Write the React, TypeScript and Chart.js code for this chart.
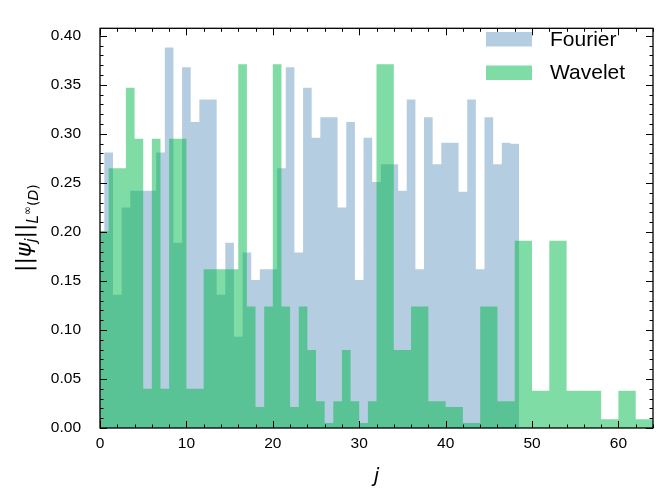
import React, { useEffect, useRef } from "react";
import { Chart, registerables } from "chart.js";

Chart.register(...registerables);

// sup-norm of each basis function
// Fourier: one bar per j = 0..48, centred on j
const fourierNorms = [
  0.201, 0.281, 0.136, 0.225, 0.242, 0.242, 0.242, 0.281, 0.388, 0.189,
  0.368, 0.312, 0.335, 0.335, 0.136, 0.189, 0.093, 0.179, 0.151, 0.162,
  0.162, 0.265, 0.368, 0.179, 0.347, 0.296, 0.317, 0.317, 0.225, 0.312,
  0.151, 0.296, 0.251, 0.269, 0.269, 0.242, 0.335, 0.162, 0.317, 0.269,
  0.291, 0.291, 0.241, 0.335, 0.162, 0.317, 0.269, 0.291, 0.29,
];
// Wavelet: one bar per cell [k, k+1], k = 0..63
const waveletNorms = [
  0.201, 0.265, 0.265, 0.347, 0.295, 0.04, 0.295, 0.04, 0.295, 0.295,
  0.04, 0.04, 0.162, 0.162, 0.162, 0.162, 0.371, 0.124, 0.0215, 0.124,
  0.371, 0.124, 0.0215, 0.124, 0.0795, 0.0274, 0.005, 0.0274, 0.0795, 0.0274,
  0.005, 0.0274, 0.371, 0.371, 0.0795, 0.0795, 0.124, 0.124, 0.0274, 0.0274,
  0.0215, 0.0215, 0.005, 0.005, 0.124, 0.124, 0.0274, 0.0274, 0.191, 0.191,
  0.038, 0.038, 0.191, 0.191, 0.038, 0.038, 0.038, 0.038, 0.0088, 0.0088,
  0.038, 0.038, 0.0088, 0.0088,
];
const seriesNames = ["Fourier", "Wavelet"];
const xTicks = [0, 10, 20, 30, 40, 50, 60];

const FOURIER_COLOR = "rgba(70,130,180,0.4)";
const WAVELET_COLOR = "rgba(0,185,75,0.5)";

// turn bar heights into step points (left edge of every bar + closing edge)
const toSteps = (vals: number[], start: number) => {
  const pts = vals.map((v, i) => ({ x: start + i, y: v }));
  pts.push({ x: start + vals.length, y: vals[vals.length - 1] });
  return pts;
};

const mathFont = (size: number, italic = false) =>
  `${italic ? "italic " : ""}${size}px 'DejaVu Sans'`;

const decorations = {
  id: "decorations",
  afterDraw(chart: any) {
    const { ctx, chartArea: a, scales } = chart;
    const xs = scales.x;
    const ys = scales.y;
    ctx.save();

    // inward ticks on all four sides
    ctx.strokeStyle = "#000";
    ctx.lineWidth = 1;
    ctx.beginPath();
    for (let i = 0; i <= 32; i++) {
      const v = i * 2;
      const px = Math.round(xs.getPixelForValue(v)) + 0.5;
      const len = v % 10 === 0 ? 7 : 3.5;
      ctx.moveTo(px, a.bottom);
      ctx.lineTo(px, a.bottom - len);
      ctx.moveTo(px, a.top);
      ctx.lineTo(px, a.top + len);
    }
    for (let i = 0; i <= 40; i++) {
      const py = Math.round(ys.getPixelForValue(i / 100)) + 0.5;
      const len = i % 5 === 0 ? 7 : 3.5;
      ctx.moveTo(a.left, py);
      ctx.lineTo(a.left + len, py);
      ctx.moveTo(a.right, py);
      ctx.lineTo(a.right - len, py);
    }
    ctx.stroke();
    ctx.lineWidth = 1.3;
    ctx.strokeRect(a.left, a.top, a.right - a.left, a.bottom - a.top);

    // legend
    const colors = [FOURIER_COLOR, WAVELET_COLOR];
    ctx.font = "21px 'Liberation Sans'";
    ctx.textBaseline = "middle";
    ctx.textAlign = "left";
    seriesNames.forEach((name, i) => {
      const cy = 39 + i * 33.5;
      ctx.fillStyle = colors[i];
      ctx.fillRect(486, cy - 7, 46, 14.5);
      ctx.fillStyle = "#000";
      ctx.fillText(name, 550, cy + 1);
    });

    // x title
    ctx.font = mathFont(20, true);
    ctx.textAlign = "center";
    ctx.fillText("j", (a.left + a.right) / 2, 477);

    // y title ||psi_j||_{L^inf(D)}, rotated
    const parts = [
      { t: "||", f: mathFont(22), dy: 0 },
      { t: "ψ", f: mathFont(22, true), dy: 0 },
      { t: "j", f: mathFont(15, true), dy: 5 },
      { t: "||", f: mathFont(22), dy: 0 },
      { t: "L", f: mathFont(15, true), dy: 7 },
      { t: "∞", f: mathFont(11), dy: 0 },
      { t: "(", f: mathFont(14), dy: 7 },
      { t: "D", f: mathFont(14, true), dy: 7 },
      { t: ")", f: mathFont(14), dy: 7 },
    ];
    let total = 0;
    const widths = parts.map((p) => {
      ctx.font = p.f;
      const w = ctx.measureText(p.t).width;
      total += w;
      return w;
    });
    const cy = (a.top + a.bottom) / 2;
    ctx.translate(31, cy + total / 2);
    ctx.rotate(-Math.PI / 2);
    ctx.textAlign = "left";
    ctx.textBaseline = "alphabetic";
    let pos = 0;
    parts.forEach((p, i) => {
      ctx.font = p.f;
      ctx.fillText(p.t, pos, p.dy);
      pos += widths[i];
    });
    ctx.restore();
  },
};

const NormChart = () => {
  const canvasRef = useRef<HTMLCanvasElement>(null);

  useEffect(() => {
    if (!canvasRef.current) return;
    const chart = new Chart(canvasRef.current, {
      type: "line",
      data: {
        datasets: [
          {
            label: seriesNames[0],
            data: toSteps(fourierNorms, -0.5),
            stepped: true,
            fill: "origin",
            backgroundColor: FOURIER_COLOR,
            borderColor: "transparent",
            borderWidth: 0,
            pointRadius: 0,
            order: 1,
          },
          {
            label: seriesNames[1],
            data: toSteps(waveletNorms, 0),
            stepped: true,
            fill: "origin",
            backgroundColor: WAVELET_COLOR,
            borderColor: "transparent",
            borderWidth: 0,
            pointRadius: 0,
            order: 0,
          },
        ],
      },
      options: {
        animation: false,
        responsive: true,
        maintainAspectRatio: false,
        events: [],
        layout: { padding: { top: 11, right: 10, left: 0, bottom: 0 } },
        plugins: {
          legend: { display: false },
          tooltip: { enabled: false },
        },
        scales: {
          x: {
            type: "linear",
            min: 0,
            max: 64,
            grid: { display: false, drawTicks: false },
            border: { display: false },
            afterBuildTicks: (scale: any) => {
              scale.ticks = xTicks.map((v) => ({ value: v }));
            },
            afterFit: (scale: any) => {
              scale.height = 69;
            },
            ticks: {
              padding: 6,
              color: "#000",
              font: { family: "'Liberation Sans'", size: 15.5 },
              maxRotation: 0,
            },
          },
          y: {
            min: 0,
            max: 0.4077,
            grid: { display: false, drawTicks: false },
            border: { display: false },
            afterFit: (scale: any) => {
              scale.width = 100;
            },
            ticks: {
              stepSize: 0.05,
              includeBounds: false,
              padding: 19,
              color: "#000",
              font: { family: "'Liberation Sans'", size: 15.5 },
              callback: (v: any) => Number(v).toFixed(2),
            },
          },
        },
      },
      plugins: [decorations],
    });
    return () => {
      chart.destroy();
    };
  }, []);

  return (
    <div style={{ position: "absolute", left: 0, top: 0, width: 663, height: 497, background: "#fff" }}>
      <canvas ref={canvasRef} />
    </div>
  );
};

export default function App() {
  return <NormChart />;
}
